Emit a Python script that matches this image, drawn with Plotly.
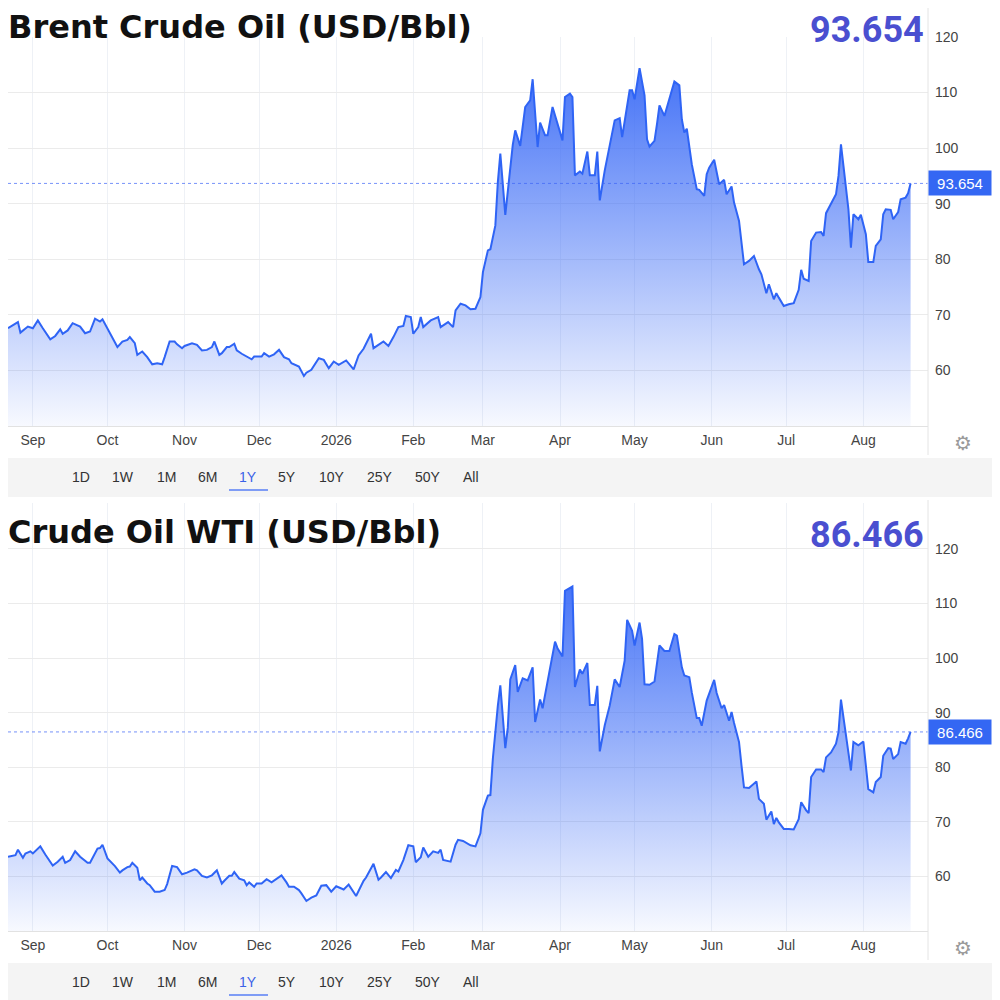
import plotly.graph_objects as go

# Brent (USD/Bbl)
brent_dates = [
    "2025-08-22", "2025-08-26", "2025-08-27", "2025-08-30", "2025-09-01", "2025-09-03", "2025-09-05",
    "2025-09-08", "2025-09-10", "2025-09-12", "2025-09-13", "2025-09-15", "2025-09-17", "2025-09-20",
    "2025-09-22", "2025-09-24", "2025-09-26", "2025-09-28", "2025-09-29", "2025-10-02", "2025-10-05",
    "2025-10-07", "2025-10-09", "2025-10-10", "2025-10-12", "2025-10-13", "2025-10-15", "2025-10-17",
    "2025-10-19", "2025-10-21", "2025-10-23", "2025-10-24", "2025-10-26", "2025-10-28", "2025-10-29",
    "2025-10-31", "2025-11-01", "2025-11-04", "2025-11-06", "2025-11-08", "2025-11-10", "2025-11-12",
    "2025-11-13", "2025-11-15", "2025-11-16", "2025-11-18", "2025-11-19", "2025-11-21", "2025-11-22",
    "2025-11-24", "2025-11-26", "2025-11-28", "2025-11-29", "2025-12-02", "2025-12-03", "2025-12-05",
    "2025-12-07", "2025-12-09", "2025-12-11", "2025-12-13", "2025-12-14", "2025-12-17", "2025-12-19",
    "2025-12-20", "2025-12-22", "2025-12-25", "2025-12-27", "2025-12-29", "2025-12-31", "2026-01-02",
    "2026-01-05", "2026-01-08", "2026-01-10", "2026-01-12", "2026-01-15", "2026-01-16", "2026-01-20",
    "2026-01-22", "2026-01-24", "2026-01-26", "2026-01-28", "2026-01-29", "2026-01-31", "2026-02-01",
    "2026-02-03", "2026-02-04", "2026-02-05", "2026-02-08", "2026-02-11", "2026-02-12", "2026-02-15",
    "2026-02-17", "2026-02-18", "2026-02-20", "2026-02-22", "2026-02-24", "2026-02-26", "2026-02-28",
    "2026-03-01", "2026-03-03", "2026-03-04", "2026-03-06", "2026-03-07", "2026-03-08", "2026-03-10",
    "2026-03-11", "2026-03-13", "2026-03-14", "2026-03-16", "2026-03-18", "2026-03-20", "2026-03-21",
    "2026-03-23", "2026-03-24", "2026-03-26", "2026-03-27", "2026-03-29", "2026-04-02", "2026-04-03",
    "2026-04-05", "2026-04-06", "2026-04-07", "2026-04-09", "2026-04-10", "2026-04-12", "2026-04-13",
    "2026-04-15", "2026-04-16", "2026-04-17", "2026-04-19", "2026-04-21", "2026-04-23", "2026-04-25",
    "2026-04-26", "2026-04-29", "2026-04-30", "2026-05-01", "2026-05-03", "2026-05-05", "2026-05-06",
    "2026-05-07", "2026-05-09", "2026-05-10", "2026-05-11", "2026-05-13", "2026-05-15", "2026-05-17",
    "2026-05-19", "2026-05-20", "2026-05-21", "2026-05-22", "2026-05-24", "2026-05-26", "2026-05-27",
    "2026-05-29", "2026-05-30", "2026-05-31", "2026-06-02", "2026-06-03", "2026-06-04", "2026-06-06",
    "2026-06-07", "2026-06-09", "2026-06-10", "2026-06-12", "2026-06-13", "2026-06-14", "2026-06-16",
    "2026-06-18", "2026-06-20", "2026-06-21", "2026-06-23", "2026-06-24", "2026-06-26", "2026-06-27",
    "2026-06-28", "2026-06-30", "2026-07-02", "2026-07-04", "2026-07-06", "2026-07-07", "2026-07-08",
    "2026-07-10", "2026-07-11", "2026-07-13", "2026-07-15", "2026-07-16", "2026-07-17", "2026-07-19",
    "2026-07-21", "2026-07-22", "2026-07-23", "2026-07-24", "2026-07-26", "2026-07-27", "2026-07-28",
    "2026-07-30", "2026-07-31", "2026-08-02", "2026-08-03", "2026-08-05", "2026-08-06", "2026-08-08",
    "2026-08-09", "2026-08-10", "2026-08-12", "2026-08-13", "2026-08-15", "2026-08-16", "2026-08-18",
    "2026-08-19", "2026-08-20",
]
brent_vals = [
    67.6, 68.7, 66.8, 67.9, 67.6, 69.0, 67.6,
    65.6, 66.2, 67.4, 66.6, 67.2, 68.5, 67.9,
    66.7, 67.0, 69.3, 68.8, 69.2, 66.6, 64.2,
    65.2, 65.5, 66.0, 64.9, 62.8, 63.4, 62.4,
    61.1, 61.3, 61.1, 62.4, 65.2, 65.2, 64.7,
    64.0, 64.4, 64.9, 64.6, 63.6, 63.7, 64.2,
    65.2, 62.8, 63.1, 64.2, 64.2, 64.8, 63.6,
    63.0, 62.5, 62.0, 62.5, 62.5, 63.1, 62.5,
    62.9, 63.7, 62.4, 62.0, 61.3, 60.7, 59.0,
    59.6, 60.1, 62.2, 61.9, 60.4, 61.6, 61.0,
    61.8, 60.2, 62.7, 63.9, 66.6, 64.0, 65.2,
    64.4, 66.0, 67.8, 68.0, 69.8, 69.6, 66.6,
    67.8, 69.6, 67.8, 69.0, 69.6, 67.8, 68.7,
    67.8, 70.8, 72.0, 71.7, 71.0, 71.1, 73.2,
    77.7, 81.6, 81.8, 86.1, 93.9, 99.0, 88.0,
    92.1, 100.6, 103.2, 100.4, 107.4, 108.6, 112.4,
    100.2, 104.6, 102.3, 102.3, 107.4, 101.4, 109.2,
    109.8, 109.2, 95.1, 95.8, 95.4, 99.4, 95.1,
    95.1, 99.4, 90.6, 96.0, 100.5, 105.0, 105.4,
    102.0, 110.4, 110.4, 108.8, 114.4, 109.5, 101.6,
    100.3, 101.3, 104.3, 107.7, 105.8, 108.8, 112.0,
    111.3, 105.2, 102.8, 103.5, 97.1, 92.6, 92.5,
    91.4, 95.3, 96.5, 97.9, 95.6, 93.5, 94.3,
    91.7, 93.1, 90.2, 86.9, 82.4, 79.1, 79.7,
    80.6, 78.2, 77.3, 73.9, 75.5, 72.8, 73.9,
    73.1, 71.6, 71.9, 72.1, 74.5, 78.1, 76.5,
    76.1, 83.3, 84.8, 84.9, 84.2, 88.3, 89.9,
    91.7, 95.0, 100.7, 96.8, 89.0, 82.1, 88.1,
    87.2, 88.0, 84.5, 79.5, 79.5, 82.4, 83.6,
    88.1, 89.0, 88.9, 87.2, 88.5, 90.8, 91.1,
    91.9, 93.654,
]

# WTI (USD/Bbl)
wti_dates = [
    "2025-08-22", "2025-08-25", "2025-08-26", "2025-08-28", "2025-08-29", "2025-08-31", "2025-09-01",
    "2025-09-04", "2025-09-06", "2025-09-07", "2025-09-09", "2025-09-11", "2025-09-13", "2025-09-14",
    "2025-09-16", "2025-09-18", "2025-09-20", "2025-09-23", "2025-09-24", "2025-09-27", "2025-09-28",
    "2025-09-29", "2025-10-01", "2025-10-04", "2025-10-06", "2025-10-07", "2025-10-09", "2025-10-10",
    "2025-10-11", "2025-10-13", "2025-10-14", "2025-10-15", "2025-10-17", "2025-10-18", "2025-10-20",
    "2025-10-22", "2025-10-24", "2025-10-25", "2025-10-27", "2025-10-29", "2025-10-30", "2025-10-31",
    "2025-11-02", "2025-11-05", "2025-11-06", "2025-11-08", "2025-11-10", "2025-11-12", "2025-11-14",
    "2025-11-16", "2025-11-17", "2025-11-19", "2025-11-20", "2025-11-21", "2025-11-23", "2025-11-25",
    "2025-11-26", "2025-11-27", "2025-11-29", "2025-11-30", "2025-12-02", "2025-12-04", "2025-12-06",
    "2025-12-08", "2025-12-10", "2025-12-12", "2025-12-13", "2025-12-15", "2025-12-17", "2025-12-18",
    "2025-12-20", "2025-12-22", "2025-12-24", "2025-12-26", "2025-12-28", "2025-12-30", "2026-01-01",
    "2026-01-04", "2026-01-06", "2026-01-09", "2026-01-12", "2026-01-13", "2026-01-16", "2026-01-18",
    "2026-01-19", "2026-01-21", "2026-01-23", "2026-01-25", "2026-01-26", "2026-01-28", "2026-01-30",
    "2026-02-01", "2026-02-02", "2026-02-04", "2026-02-05", "2026-02-07", "2026-02-09", "2026-02-11",
    "2026-02-12", "2026-02-13", "2026-02-16", "2026-02-18", "2026-02-19", "2026-02-21", "2026-02-24",
    "2026-02-26", "2026-02-28", "2026-03-01", "2026-03-03", "2026-03-04", "2026-03-05", "2026-03-07",
    "2026-03-08", "2026-03-10", "2026-03-11", "2026-03-12", "2026-03-14", "2026-03-15", "2026-03-17",
    "2026-03-19", "2026-03-21", "2026-03-22", "2026-03-24", "2026-03-25", "2026-03-27", "2026-03-30",
    "2026-03-31", "2026-04-02", "2026-04-03", "2026-04-06", "2026-04-07", "2026-04-09", "2026-04-10",
    "2026-04-12", "2026-04-13", "2026-04-15", "2026-04-16", "2026-04-17", "2026-04-19", "2026-04-21",
    "2026-04-23", "2026-04-25", "2026-04-27", "2026-04-28", "2026-04-30", "2026-05-01", "2026-05-03",
    "2026-05-04", "2026-05-05", "2026-05-07", "2026-05-09", "2026-05-10", "2026-05-11", "2026-05-13",
    "2026-05-15", "2026-05-17", "2026-05-18", "2026-05-20", "2026-05-21", "2026-05-23", "2026-05-24",
    "2026-05-26", "2026-05-27", "2026-05-28", "2026-05-30", "2026-06-02", "2026-06-03", "2026-06-05",
    "2026-06-06", "2026-06-08", "2026-06-09", "2026-06-10", "2026-06-12", "2026-06-13", "2026-06-14",
    "2026-06-16", "2026-06-19", "2026-06-20", "2026-06-22", "2026-06-23", "2026-06-25", "2026-06-26",
    "2026-06-27", "2026-06-28", "2026-06-30", "2026-07-02", "2026-07-04", "2026-07-06", "2026-07-07",
    "2026-07-09", "2026-07-10", "2026-07-11", "2026-07-13", "2026-07-15", "2026-07-16", "2026-07-17",
    "2026-07-19", "2026-07-21", "2026-07-22", "2026-07-23", "2026-07-24", "2026-07-26", "2026-07-27",
    "2026-07-28", "2026-07-30", "2026-08-01", "2026-08-02", "2026-08-03", "2026-08-05", "2026-08-06",
    "2026-08-08", "2026-08-09", "2026-08-11", "2026-08-12", "2026-08-13", "2026-08-15", "2026-08-16",
    "2026-08-18", "2026-08-19", "2026-08-20",
]
wti_vals = [
    63.6, 63.9, 64.9, 63.4, 64.2, 64.6, 64.2,
    65.5, 64.0, 63.4, 62.0, 62.7, 63.6, 62.5,
    63.0, 64.6, 63.6, 62.5, 62.5, 65.1, 65.2,
    65.8, 63.3, 61.9, 60.7, 61.1, 61.7, 61.8,
    62.5, 61.6, 59.3, 59.8, 58.7, 58.4, 57.2,
    57.2, 57.5, 58.6, 61.9, 61.7, 61.1, 60.4,
    60.7, 61.3, 61.1, 60.1, 59.8, 60.2, 61.1,
    58.7, 59.2, 60.1, 60.1, 60.8, 59.6, 59.3,
    58.4, 58.9, 58.1, 58.7, 58.7, 59.5, 58.9,
    59.5, 60.2, 58.9, 58.1, 58.1, 57.5, 56.9,
    55.5, 56.1, 56.5, 58.3, 58.4, 57.2, 58.2,
    57.6, 58.5, 56.4, 59.2, 59.8, 62.3, 59.4,
    59.8, 60.8, 59.7, 61.2, 60.9, 63.0, 65.7,
    65.5, 62.6, 63.5, 65.3, 63.6, 64.6, 64.3,
    64.9, 63.0, 62.7, 65.8, 66.7, 66.5, 65.7,
    65.5, 67.9, 72.2, 74.8, 74.9, 81.6, 91.3,
    95.0, 83.5, 87.2, 96.1, 98.7, 93.8, 96.3,
    95.9, 98.3, 88.3, 92.4, 90.8, 95.6, 103.0,
    101.8, 100.3, 112.3, 113.1, 94.7, 97.9, 97.1,
    99.1, 91.4, 91.4, 94.9, 82.9, 87.7, 91.3,
    96.1, 94.7, 99.5, 107.0, 105.0, 102.3, 106.5,
    103.5, 95.2, 95.1, 95.7, 98.9, 102.3, 101.3,
    101.3, 104.4, 104.1, 98.3, 96.8, 96.5, 93.7,
    89.0, 89.0, 87.6, 92.2, 96.0, 93.6, 90.8,
    91.4, 88.5, 90.1, 88.1, 84.6, 80.3, 76.3,
    76.2, 77.4, 74.2, 73.3, 70.4, 71.9, 69.6,
    70.7, 69.9, 68.7, 68.7, 68.6, 70.5, 73.6,
    72.1, 71.6, 78.2, 79.6, 79.6, 79.1, 81.8,
    82.7, 84.3, 86.4, 92.4, 89.1, 82.7, 79.4,
    84.6, 84.0, 84.7, 80.9, 76.0, 75.4, 77.3,
    78.2, 82.1, 83.5, 83.4, 81.5, 82.4, 84.6,
    84.3, 85.3, 86.466,
]

month_ticks = ["2025-09-01", "2025-10-01", "2025-11-01", "2025-12-01", "2026-01-01", "2026-02-01",
               "2026-03-01", "2026-04-01", "2026-05-01", "2026-06-01", "2026-07-01", "2026-08-01"]
month_labels = ["Sep", "Oct", "Nov", "Dec", "2026", "Feb", "Mar", "Apr", "May", "Jun", "Jul", "Aug"]
price_ticks = [60, 70, 80, 90, 100, 110, 120]
range_labels = ["1D", "1W", "1M", "6M", "1Y", "5Y", "10Y", "25Y", "50Y", "All"]
titles = ["Brent Crude Oil (USD/Bbl)", "Crude Oil WTI (USD/Bbl)"]

BLUE = "#2f64f5"
TICKFONT = dict(family="Liberation Sans, Arial", size=14, color="#444")

# the page puts the figure 8px in from the window corner, so lay out in window pixels
OFF = 8
SIZE = 992


def fx(px):
    return (px - OFF) / SIZE


def fy(px):
    return 1 - (px - OFF) / SIZE


fig = go.Figure()

# per panel: plot top/bottom in window px, y max, vertical offset of the panel furniture
panels = [
    (brent_dates, brent_vals, "x", "y", 37, 426, 120, 0),
    (wti_dates, wti_vals, "x2", "y2", 503, 931, 128.4, 505),
]

button_x = [81, 123, 166, 207, 248, 287, 332, 380, 428, 471]

for i, (dates, vals, xa, ya, ptop, pbot, ymax, dy) in enumerate(panels):
    fig.add_trace(go.Scatter(
        x=dates, y=vals, xaxis=xa, yaxis=ya, mode="lines",
        line=dict(color=BLUE, width=2),
        fill="tozeroy",
        fillgradient=dict(type="vertical", start=50, stop=116,
                          colorscale=[[0, "rgba(60,108,246,0.04)"], [1, "rgba(60,108,246,0.98)"]]),
        showlegend=False, hoverinfo="skip",
    ))

    sfx = "" if i == 0 else str(i + 1)
    fig.layout["xaxis" + sfx] = dict(
        type="date", domain=[fx(8), fx(928)], anchor=ya, range=["2025-08-22", "2026-08-27"],
        tickvals=month_ticks, ticktext=month_labels, tickfont=TICKFONT,
        showgrid=True, gridcolor="#eef1f6", showline=True, linecolor="#e2e2e2",
        zeroline=False, ticks="", ticklabelstandoff=1, automargin=False,
    )
    fig.layout["yaxis" + sfx] = dict(
        domain=[fy(pbot), fy(ptop)], anchor=xa, range=[50, ymax], side="right",
        tickvals=price_ticks, tickfont=TICKFONT, showgrid=True, gridcolor="#ebebeb",
        zeroline=False, showline=False, ticks="", ticklabelstandoff=6, automargin=False,
    )

    last = vals[-1]
    # dotted line at the last price + label box on the axis
    fig.add_shape(type="line", xref="paper", yref=ya, x0=fx(8), x1=fx(928), y0=last, y1=last,
                  line=dict(color="rgba(60,100,245,0.7)", width=1, dash="dot"))
    fig.add_annotation(xref="paper", yref=ya, x=fx(928), y=last, xanchor="left", yanchor="middle",
                       text=f"{last:.3f}", showarrow=False, bgcolor="#3467f3",
                       width=60, height=22, borderpad=1,
                       font=dict(family="Liberation Sans, Arial", size=15, color="white"))

    fig.add_annotation(xref="paper", yref="paper", x=fx(6), y=fy(27 + dy), xanchor="left", yanchor="middle",
                       text=f"<b>{titles[i]}</b>", showarrow=False,
                       font=dict(family="DejaVu Sans", size=32, color="#111"))
    fig.add_annotation(xref="paper", yref="paper", x=fx(926), y=fy(29.5 + dy), xanchor="right", yanchor="middle",
                       text=f"<b>{last:.3f}</b>", showarrow=False,
                       font=dict(family="Roboto", size=36, color="#4a4fd0"))

    # right border of the plot
    fig.add_shape(type="line", xref="paper", yref="paper", x0=fx(928), x1=fx(928),
                  y0=fy(455 + dy), y1=fy(ptop - (29 if i == 0 else 3)),
                  line=dict(color="#e4e4e4", width=1))

    fig.add_annotation(xref="paper", yref="paper", x=fx(963), y=fy(443 + dy), text="⚙", showarrow=False,
                       xanchor="center", yanchor="middle",
                       font=dict(family="DejaVu Sans", size=20, color="#9a9a9a"))

    # range selector bar
    fig.add_shape(type="rect", xref="paper", yref="paper", x0=fx(0), x1=fx(993),
                  y0=fy(497 + dy), y1=fy(458 + dy),
                  fillcolor="#f4f4f4", line=dict(width=0), layer="below")
    for lab, bx in zip(range_labels, button_x):
        fig.add_annotation(xref="paper", yref="paper", x=fx(bx), y=fy(477 + dy), text=lab, showarrow=False,
                           xanchor="center", yanchor="middle",
                           font=dict(family="Liberation Sans, Arial", size=14,
                                     color="#3b62e8" if lab == "1Y" else "#333"))
    fig.add_shape(type="line", xref="paper", yref="paper", x0=fx(229), x1=fx(268),
                  y0=fy(490 + dy), y1=fy(490 + dy),
                  line=dict(color="#7f9cf5", width=2))

fig.update_layout(
    width=SIZE, height=SIZE,
    margin=dict(l=0, r=0, t=0, b=0),
    paper_bgcolor="white", plot_bgcolor="white",
)

fig.write_html("out.html")
